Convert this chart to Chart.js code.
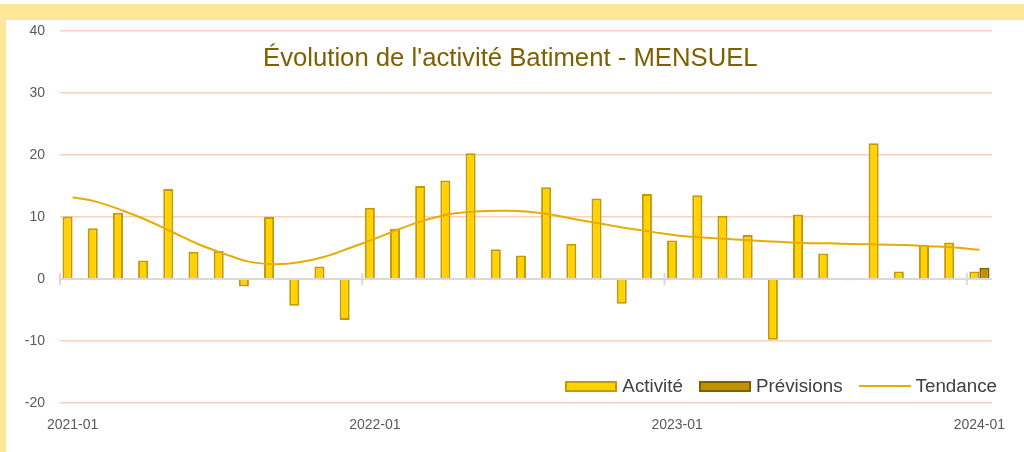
<!DOCTYPE html>
<html lang="fr">
<head>
<meta charset="utf-8">
<title>Évolution de l'activité Batiment - MENSUEL</title>
<script src="https://cdn.jsdelivr.net/npm/chart.js@4/dist/chart.umd.min.js"></script>
<style>
  html, body { margin: 0; padding: 0; background: #fff; }
  #wrap { position: relative; width: 1024px; height: 452px; overflow: hidden; font-family: "Liberation Sans", Arial, sans-serif; }
  .band { position: absolute; background: #FFE699; }
  #topBand { left: 0; top: 4px; width: 1024px; height: 16px; }
  #leftBand { left: 0; top: 4px; width: 6px; height: 448px; }
  #myChart { position: absolute; left: 0; top: 0; }
  #title { position: absolute; left: 263px; top: 44px; font-size: 25.7px; line-height: 26px; color: #7F6000; white-space: nowrap; }
  #legend { position: absolute; right: 27px; top: 375px; display: flex; align-items: center; font-size: 18.8px; color: #404040; line-height: 22px; }
  #legend .item { display: flex; align-items: center; margin-left: 16px; }
  #legend .swatch { width: 52px; height: 11px; box-sizing: border-box; margin-right: 5px; }
</style>
</head>
<body>
<div id="wrap">
  <div class="band" id="topBand"></div>
  <div class="band" id="leftBand"></div>
  <canvas id="myChart" width="1024" height="452"></canvas>
  <div id="title">Évolution de l'activité Batiment - MENSUEL</div>
  <div id="legend"></div>
</div>
<script>
const months = [
  '2021-01','2021-02','2021-03','2021-04','2021-05','2021-06',
  '2021-07','2021-08','2021-09','2021-10','2021-11','2021-12',
  '2022-01','2022-02','2022-03','2022-04','2022-05','2022-06',
  '2022-07','2022-08','2022-09','2022-10','2022-11','2022-12',
  '2023-01','2023-02','2023-03','2023-04','2023-05','2023-06',
  '2023-07','2023-08','2023-09','2023-10','2023-11','2023-12',
  '2024-01'
]

const activite = [
  10.1, 8.2, 10.7, 3.0, 14.5, 4.4, 4.5, -1.2, 10.0, -4.3, 2.0, -6.6,
  11.5, 8.1, 15.0, 15.9, 20.3, 4.8, 3.8, 14.8, 5.7, 13.0, -4.0, 13.7,
  6.2, 13.5, 10.2, 7.1, -9.8, 10.4, 4.1, -0.2, 21.9, 1.2, 5.5, 5.9,
  1.2
]

const previsions = [
  null, null, null, null, null, null, null, null, null, null, null, null,
  null, null, null, null, null, null, null, null, null, null, null, null,
  null, null, null, null, null, null, null, null, null, null, null, null,
  1.8
]

const tendance = [
  13.2, 12.4, 11.0, 9.4, 7.5, 5.6, 4.1, 2.8, 2.4, 2.7, 3.6, 5.0,
  6.5, 8.1, 9.5, 10.5, 10.9, 11.0, 10.9, 10.4, 9.6, 8.9, 8.2, 7.6,
  7.0, 6.7, 6.45, 6.2, 6.0, 5.8, 5.75, 5.65, 5.55, 5.5, 5.3, 5.1,
  4.7
]

const yTicks = { min: -20, max: 40, step: 10 }
const labelEvery = 12

const textFont = { family: '"Liberation Sans", Arial, sans-serif', size: 14 }

// petits traits sur l'axe 0, tous les 12 mois
const zeroTicks = {
  id: 'zeroTicks',
  beforeDatasetsDraw(chart) {
    const x = chart.scales.x, y = chart.scales.y
    const half = (x.getPixelForValue(1) - x.getPixelForValue(0)) / 2
    const y0 = y.getPixelForValue(0)
    const ctx = chart.ctx
    ctx.save()
    ctx.strokeStyle = '#D9D9D9'
    ctx.lineWidth = 2
    for (let i = 0; i < months.length; i += labelEvery) {
      const px = x.getPixelForValue(i) - half
      ctx.beginPath()
      ctx.moveTo(px, y0 - 6)
      ctx.lineTo(px, y0 + 6)
      ctx.stroke()
    }
    ctx.restore()
  }
}

const ctx = document.getElementById('myChart').getContext('2d')

const data = {
  labels: months,
  datasets: [
    {
      type: 'bar',
      label: 'Activité',
      data: activite,
      backgroundColor: '#FFD200',
      borderColor: '#C49A00',
      borderWidth: 2,
      order: 2
    },
    {
      type: 'bar',
      label: 'Prévisions',
      data: previsions,
      backgroundColor: '#BF9000',
      borderColor: '#7F6000',
      borderWidth: 2,
      order: 2
    },
    {
      type: 'line',
      label: 'Tendance',
      data: tendance,
      borderColor: '#E6AD00',
      backgroundColor: '#E6AD00',
      borderWidth: 2,
      pointRadius: 0,
      tension: 0.4,
      fill: false,
      order: 1
    }
  ]
}

const config = {
  type: 'bar',
  data,
  options: {
    responsive: false,
    animation: false,
    categoryPercentage: 0.8,
    barPercentage: 1.0,
    layout: { padding: { top: 31, right: 32, bottom: 0, left: 0 } },
    plugins: {
      legend: { display: false },
      title: { display: false },
      tooltip: { enabled: false }
    },
    scales: {
      x: {
        offset: true,
        grid: { display: false, drawTicks: false },
        border: { display: false },
        ticks: {
          autoSkip: false,
          maxRotation: 0,
          padding: 14,
          color: '#595959',
          font: textFont,
          callback: function(value, index) {
            return index % labelEvery === 0 ? months[index] : ''
          }
        },
        afterFit: function(scale) { scale.height = 49 }
      },
      y: {
        min: yTicks.min,
        max: yTicks.max,
        border: { display: false },
        grid: {
          drawTicks: false,
          color: function(c) { return c.tick && c.tick.value === 0 ? '#D9D9D9' : '#F8D2BC' },
          lineWidth: function(c) { return c.tick && c.tick.value === 0 ? 2 : 1.5 }
        },
        ticks: {
          stepSize: yTicks.step,
          padding: 15,
          color: '#595959',
          font: textFont
        },
        afterFit: function(scale) { scale.width = 60 }
      }
    }
  },
  plugins: [zeroTicks]
}

const myChart = new Chart(ctx, config)

// légende HTML construite depuis les datasets
const legendEl = document.getElementById('legend')
myChart.data.datasets.forEach(function(ds) {
  const item = document.createElement('div')
  item.className = 'item'
  const sw = document.createElement('span')
  sw.className = 'swatch'
  if (ds.type === 'line') {
    sw.style.height = '2px'
    sw.style.background = ds.borderColor
  } else {
    sw.style.background = ds.backgroundColor
    sw.style.border = ds.borderWidth + 'px solid ' + ds.borderColor
  }
  item.appendChild(sw)
  const txt = document.createElement('span')
  txt.textContent = ds.label
  item.appendChild(txt)
  legendEl.appendChild(item)
})
</script>
</body>
</html>
